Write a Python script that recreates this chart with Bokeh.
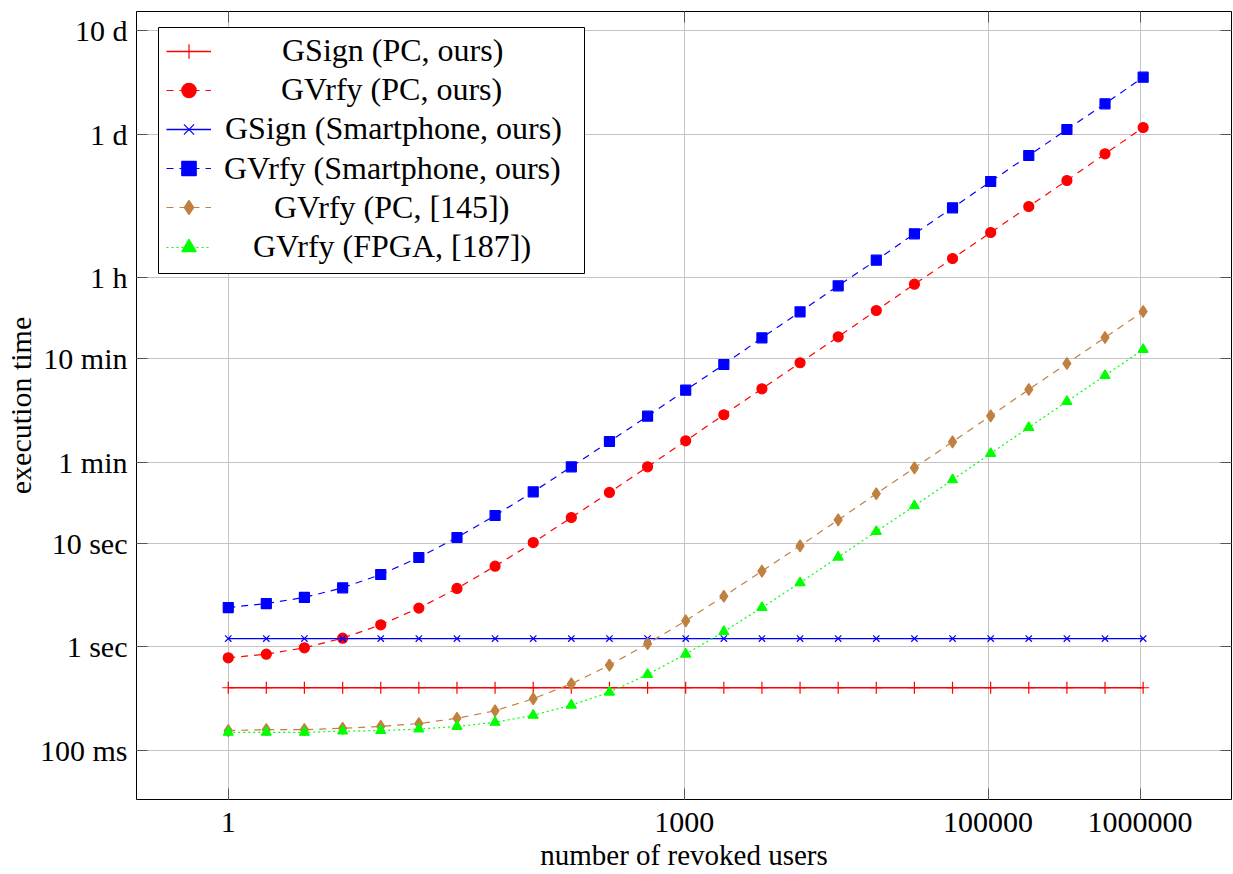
from bokeh.plotting import figure
from bokeh.models import FixedTicker, LogAxis, Legend, LegendItem, Range1d, BoxAnnotation
from bokeh.embed import file_html
from bokeh.resources import INLINE

# ---------------- data (seconds) ----------------
users = [1, 1.78, 3.17, 5.66, 10.08, 17.96, 32, 57.0, 101.6, 181.0, 322.5, 574.7,
         1024, 1825, 3251, 5793, 10321, 18390, 32768, 58386, 104032, 185364,
         330281, 588496, 1048576]

gsign_pc = [0.403, 0.403, 0.403, 0.403, 0.403, 0.403, 0.403, 0.403, 0.403, 0.403,
            0.403, 0.403, 0.403, 0.403, 0.403, 0.403, 0.403, 0.403, 0.403, 0.403,
            0.403, 0.403, 0.403, 0.403, 0.403]
gvrfy_pc = [0.783, 0.849, 0.978, 1.21, 1.63, 2.36, 3.65, 5.98, 10.1, 17.6, 30.7, 54.2,
            96.5, 172, 306, 545, 969, 1738, 3114, 5506, 9802, 17450, 31070, 56170, 100700]
gsign_phone = [1.20, 1.20, 1.20, 1.20, 1.20, 1.20, 1.20, 1.20, 1.20, 1.20,
               1.20, 1.20, 1.20, 1.20, 1.20, 1.20, 1.20, 1.20, 1.20, 1.20,
               1.20, 1.20, 1.20, 1.20, 1.20]
gvrfy_phone = [2.39, 2.61, 2.99, 3.70, 4.97, 7.25, 11.3, 18.4, 31.1, 54.2, 95.0, 166.6,
               296.6, 524.5, 948, 1688, 3005, 5303, 9524, 16960, 30380, 54100, 96300,
               170300, 307300]
gvrfy_145 = [0.156, 0.159, 0.159, 0.164, 0.171, 0.182, 0.205, 0.242, 0.316, 0.440, 0.665,
             1.07, 1.78, 3.07, 5.35, 9.40, 16.7, 29.8, 53.0, 94.4, 168, 301, 536, 954, 1700]
gvrfy_187 = [0.150, 0.150, 0.150, 0.154, 0.156, 0.161, 0.171, 0.187, 0.219, 0.274, 0.365,
             0.541, 0.849, 1.40, 2.39, 4.14, 7.30, 12.9, 22.8, 40.6, 72.8, 129.6, 230.8,
             411, 731]

labels = ["GSign (PC, ours)", "GVrfy (PC, ours)", "GSign (Smartphone, ours)",
          "GVrfy (Smartphone, ours)", "GVrfy (PC, [145])", "GVrfy (FPGA, [187])"]

x_ticks = [1, 1000, 100000, 1000000]
x_tick_labels = ["1", "1000", "100000", "1000000"]
y_ticks = [0.1, 1, 10, 60, 600, 3600, 86400, 864000]
y_tick_labels = ["100 ms", "1 sec", "10 sec", "1 min", "10 min", "1 h", "1 d", "10 d"]

# ---------------- figure ----------------
SERIF = "Liberation Serif"

p = figure(width=1233, height=874, x_axis_type="log", y_axis_type="log",
           x_range=Range1d(0.249, 4.0e6), y_range=Range1d(0.0338, 1.32e6),
           output_backend="svg", toolbar_location=None,
           min_border_left=136, min_border_right=2, min_border_top=11,
           min_border_bottom=75)
p.background_fill_color = "white"
p.border_fill_color = "white"
p.outline_line_color = "black"
p.outline_line_width = 1

series = [
    (gsign_pc, dict(color="#ff0000", dash="solid", marker="cross", size=12, lw=1.4)),
    (gvrfy_pc, dict(color="#ff0000", dash="7 6", marker="circle", size=10, lw=1.2)),
    (gsign_phone, dict(color="#0000ff", dash="solid", marker="x", size=9, lw=1.4)),
    (gvrfy_phone, dict(color="#0000ff", dash="7 6", marker="square", size=10, lw=1.2)),
    (gvrfy_145, dict(color="#bf8040", dash="7 6", marker="diamond", size=12, lw=1.2)),
    (gvrfy_187, dict(color="#00ff00", dash="2 3", marker="triangle", size=10, lw=1.2)),
]

items = []
for (vals, st), lab in zip(series, labels):
    ln = p.line(users, vals, line_color=st["color"], line_width=st["lw"], line_dash=st["dash"])
    mk = p.scatter(users, vals, marker=st["marker"], size=st["size"],
                   line_color=st["color"], fill_color=st["color"], line_width=1.2)
    items.append(LegendItem(label=lab, renderers=[ln, mk]))

# ---------------- axes ----------------
xax = p.xaxis[0]
xax.ticker = FixedTicker(ticks=x_ticks, minor_ticks=[])
xax.major_label_overrides = dict(zip(x_ticks, x_tick_labels))
yax = p.yaxis[0]
yax.ticker = FixedTicker(ticks=y_ticks, minor_ticks=[])
yax.major_label_overrides = dict(zip(y_ticks, y_tick_labels))

for ax in (xax, yax):
    ax.major_label_text_font = SERIF
    ax.major_label_text_font_size = "30px"
    ax.major_label_text_color = "black"
    ax.axis_label_text_font = SERIF
    ax.axis_label_text_font_style = "normal"
    ax.axis_label_text_color = "black"
    ax.major_tick_in = 11
    ax.major_tick_out = 0
    ax.major_tick_line_color = "#555555"
    ax.minor_tick_line_color = None
    ax.axis_line_color = None

xax.axis_label = "number of revoked users"
yax.axis_label = "execution time"
xax.axis_label_text_font_size = "29px"
yax.axis_label_text_font_size = "30px"
xax.major_label_standoff = 13
xax.axis_label_standoff = 4
yax.major_label_standoff = 9
yax.axis_label_standoff = 0

top = LogAxis(ticker=FixedTicker(ticks=x_ticks, minor_ticks=[]),
              major_label_overrides={t: "" for t in x_ticks},
              major_tick_in=11, major_tick_out=0, major_tick_line_color="#555555",
              minor_tick_line_color=None, axis_line_color=None,
              major_label_standoff=0, major_label_text_font_size="0px")
right = LogAxis(ticker=FixedTicker(ticks=y_ticks, minor_ticks=[]),
                major_label_overrides={t: "" for t in y_ticks},
                major_tick_in=11, major_tick_out=0, major_tick_line_color="#555555",
                minor_tick_line_color=None, axis_line_color=None,
                major_label_standoff=0, major_label_text_font_size="0px")
p.add_layout(top, "above")
p.add_layout(right, "right")

p.xgrid.grid_line_color = "#c4c4c4"
p.ygrid.grid_line_color = "#c4c4c4"
p.xgrid.grid_line_width = 1
p.ygrid.grid_line_width = 1

# ---------------- legend (box + one centred row per entry) ----------------
legend_box = BoxAnnotation(left=22, right=448, bottom=526, top=772,
                           left_units="screen", right_units="screen",
                           bottom_units="screen", top_units="screen",
                           fill_color="white", fill_alpha=1,
                           line_color="black", line_width=1, line_alpha=1)
p.add_layout(legend_box)

row_standoffs = [71, 70, 14, 13, 63, 42]
for i, (item, so) in enumerate(zip(items, row_standoffs)):
    lg = Legend(items=[item], location=(30, 730 - 39.2 * i), margin=0,
                label_text_font=SERIF, label_text_font_size="32px",
                label_text_color="black",
                glyph_width=45, glyph_height=36, label_height=36, label_width=10,
                label_standoff=so, padding=7, spacing=0,
                border_line_color=None, background_fill_alpha=0)
    p.add_layout(lg)

open("out.html", "w").write(file_html(p, INLINE))
